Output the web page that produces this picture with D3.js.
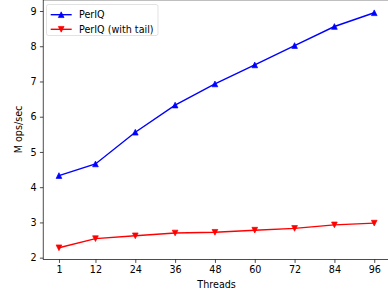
<!DOCTYPE html>
<html>
<head>
<meta charset="utf-8">
<script src="https://cdn.jsdelivr.net/npm/d3@7"></script>
<style>
  body { margin: 0; background: #fff; }
  text { font-family: "DejaVu Sans", sans-serif; }
</style>
</head>
<body>
<div id="visualization"></div>
<script>
// thread counts on the x axis
var threads = [1, 12, 24, 36, 48, 60, 72, 84, 96];
// throughput, M ops/sec
var perlq = [4.33, 4.66, 5.56, 6.33, 6.93, 7.47, 8.02, 8.56, 8.95];
var perlqTail = [2.28, 2.54, 2.62, 2.70, 2.72, 2.78, 2.83, 2.93, 2.98];
var yTicks = [2, 3, 4, 5, 6, 7, 8, 9];
var seriesNames = ["PerIQ", "PerIQ (with tail)"];

var width = 388, height = 296;
var fontSize = 9.6;

var svg = d3.select("#visualization").append("svg")
    .attr("width", width)
    .attr("height", height);

// matplotlib-like 5% margins on the data range
var x = d3.scaleLinear().domain([-3.75, 100.75]).range([43.2, 390]);
var y = d3.scaleLinear().domain([1.945, 9.315]).range([259.6, -0.1]);

// frame
svg.append("rect")
    .attr("x", x.range()[0])
    .attr("y", y.range()[1])
    .attr("width", x.range()[1] - x.range()[0])
    .attr("height", y.range()[0] - y.range()[1])
    .attr("fill", "none")
    .attr("stroke", "#000")
    .attr("stroke-width", 0.7);

var xAxis = svg.append("g")
    .attr("transform", "translate(0," + y.range()[0] + ")")
    .call(d3.axisBottom(x).tickValues(threads).tickFormat(d3.format("d"))
      .tickSize(3.3).tickPadding(3.3));

var yAxis = svg.append("g")
    .attr("transform", "translate(" + x.range()[0] + ",0)")
    .call(d3.axisLeft(y).tickValues(yTicks).tickFormat(d3.format("d"))
      .tickSize(3.3).tickPadding(3.3));

[xAxis, yAxis].forEach(function (ax) {
  ax.select(".domain").remove();
  ax.selectAll(".tick line").attr("stroke", "#000").attr("stroke-width", 0.7);
  ax.selectAll(".tick text")
    .attr("fill", "#000")
    .style("font-size", fontSize + "px")
    .style("font-family", "DejaVu Sans");
});

// axis titles
svg.append("text")
    .attr("x", 216.6)
    .attr("y", 288)
    .attr("text-anchor", "middle")
    .style("font-size", fontSize + "px")
    .text("Threads");

svg.append("text")
    .attr("transform", "translate(22,129.5) rotate(-90)")
    .attr("text-anchor", "middle")
    .style("font-size", fontSize + "px")
    .text("M ops/sec");

// triangle markers, centred on the point
var ms = 5.7;
function triUp(px, py) {
  return "M" + px + "," + (py - ms / 2) + "L" + (px - ms / 2) + "," + (py + ms / 2) +
    "L" + (px + ms / 2) + "," + (py + ms / 2) + "Z";
}
function triDown(px, py) {
  return "M" + px + "," + (py + ms / 2) + "L" + (px - ms / 2) + "," + (py - ms / 2) +
    "L" + (px + ms / 2) + "," + (py - ms / 2) + "Z";
}

var series = [
  { name: seriesNames[0], values: perlq, color: "#0000ff", marker: triUp },
  { name: seriesNames[1], values: perlqTail, color: "#ff0000", marker: triDown }
];

var line = d3.line()
    .x(function (d, i) { return x(threads[i]); })
    .y(function (d) { return y(d); });

series.forEach(function (s) {
  svg.append("path")
      .datum(s.values)
      .attr("d", line)
      .attr("fill", "none")
      .attr("stroke", s.color)
      .attr("stroke-width", 1.4);

  svg.selectAll(null)
      .data(s.values)
      .enter()
      .append("path")
        .attr("d", function (d, i) { return s.marker(x(threads[i]), y(d)); })
        .attr("fill", s.color)
        .attr("stroke", s.color)
        .attr("stroke-width", 0.7);
});

// legend
var legend = svg.append("g");
legend.append("rect")
    .attr("x", 46.5)
    .attr("y", 4.5)
    .attr("width", 111.5)
    .attr("height", 31)
    .attr("rx", 2)
    .attr("fill", "#fff")
    .attr("fill-opacity", 0.8)
    .attr("stroke", "#d6d6d6")
    .attr("stroke-width", 0.7);

series.forEach(function (s, i) {
  var ly = 14.7 + i * 14.6;
  legend.append("line")
      .attr("x1", 50.7).attr("x2", 71.7)
      .attr("y1", ly).attr("y2", ly)
      .attr("stroke", s.color)
      .attr("stroke-width", 1.4);
  legend.append("path")
      .attr("d", s.marker(61.2, ly))
      .attr("fill", s.color)
      .attr("stroke", s.color)
      .attr("stroke-width", 0.7);
  legend.append("text")
      .attr("x", 79)
      .attr("y", ly)
      .attr("dy", "0.35em")
      .style("font-size", fontSize + "px")
      .text(s.name);
});
</script>
</body>
</html>
